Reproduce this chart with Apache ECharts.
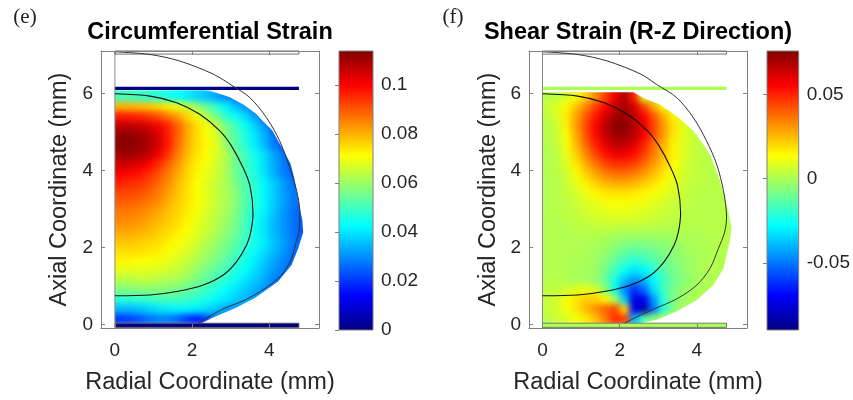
<!DOCTYPE html>
<html><head><meta charset="utf-8">
<script src="https://cdn.jsdelivr.net/npm/echarts@6/dist/echarts.min.js"></script>
<style>html,body{margin:0;padding:0;background:#fff}#c{width:853px;height:400px}#c canvas:first-of-type{filter:blur(3px)}</style>
</head><body><div id="c"></div>
<script>
// ---- data (field values in thousandths of strain) ----
const colX = [0.125,0.375,0.625,0.875,1.125,1.375,1.625,1.875,2.125,2.375,2.625,2.875,3.125,3.375,3.625,3.875,4.125,4.375,4.625,4.875];
const rowY = [0.175,0.425,0.675,0.925,1.175,1.425,1.675,1.925,2.175,2.425,2.675,2.925,3.175,3.425,3.675,3.925,4.175,4.425,4.675,4.925,5.175,5.425,5.675,5.925];
const circRows = [
 [20,21,23,26,28,28,25,20,17,22,28,27],
 [35,35,36,38,40,41,42,42,41,39,36,33,31,28],
 [47,47,48,49,50,50,50,49,47,45,42,40,37,35,32,29],
 [57,57,58,58,58,57,56,54,52,49,46,43,40,37,34,31,28],
 [63,63,64,64,63,62,61,59,56,53,50,47,44,40,37,33,29,26],
 [68,68,68,68,67,66,65,62,59,56,53,50,46,43,39,35,31,28,25],
 [72,72,71,71,70,69,67,65,62,59,56,53,49,45,41,37,33,29,26],
 [75,75,75,74,73,71,69,67,64,61,58,55,51,47,43,39,35,31,27,24],
 [78,78,77,76,75,73,71,69,66,63,60,57,53,49,45,41,36,32,28,24],
 [81,81,80,79,77,75,73,71,68,65,62,59,55,50,45,40,35,31,27,24],
 [84,84,83,81,79,77,75,72,69,66,63,60,56,50,45,40,35,31,27,24],
 [86,86,85,83,81,78,76,73,70,67,64,61,57,51,46,41,36,31,27,24],
 [89,89,88,86,84,80,77,74,71,68,65,62,58,52,47,42,37,32,28,24],
 [92,92,91,89,86,82,78,74,71,68,65,62,58,52,47,42,37,32,28],
 [96,95,94,92,88,84,79,75,71,68,65,62,56,52,47,42,37,32,27],
 [100,99,98,95,91,86,81,76,72,69,66,62,55,51,46,40,34,29,25],
 [105,105,103,100,95,89,83,77,73,70,66,62,55,50,45,39,33,28,24],
 [110,110,109,106,101,94,86,79,74,71,67,63,55,50,45,39,33,27],
 [113,113,112,109,104,97,88,80,75,72,68,59,53,47,41,35,28,24],
 [112,112,111,108,104,97,89,81,75,71,67,58,52,46,40,34,27],
 [107,107,106,104,101,96,89,81,75,70,65,56,50,44,38,31,25],
 [97,97,96,94,91,87,82,76,70,63,56,48,44,39,32,27],
 [80,80,79,78,76,73,69,65,60,54,48,42,36,31,27],
 [50,50,49,48,47,45,43,41,38,36,33,30,27]
];
const shearRows = [
 [3,5,8,12,17,24,35,48,45,-40,-15,-4,0,1],
 [4,7,12,18,25,32,40,44,20,-70,-85,-50,-22,-7,-1,1],
 [4,7,12,18,22,22,15,0,-35,-75,-72,-45,-22,-8,-3,0,1],
 [3,4,6,9,11,8,-5,-25,-48,-62,-52,-33,-18,-9,-4,-1,0,1],
 [2,2,1,0,-1,-4,-11,-24,-38,-45,-40,-28,-18,-11,-6,-3,0,1,1],
 [1,1,1,0,-1,-3,-9,-18,-27,-32,-29,-22,-15,-9,-5,-2,0,1,1],
 [1,1,1,0,0,-2,-6,-12,-18,-21,-19,-15,-11,-7,-4,-2,0,1,1,1],
 [1,1,1,1,0,-1,-3,-7,-11,-13,-12,-10,-7,-5,-3,-1,0,1,1,1],
 [1,1,1,1,1,0,-1,-3,-5,-6,-6,-5,-4,-3,-1,0,1,1,2,2],
 [1,1,1,2,2,2,2,1,0,0,0,0,0,0,1,1,1,2,2,2],
 [1,1,2,3,4,5,6,6,6,6,5,4,3,3,2,2,2,2,2,2],
 [1,2,3,4,6,8,9,10,10,9,8,7,5,4,3,2,2,2,2,2],
 [1,2,3,5,8,10,12,13,13,12,11,9,7,5,4,3,2,2,2,2],
 [1,2,4,7,11,15,17,18,18,17,15,13,10,7,5,3,2,2,2],
 [1,2,5,10,16,21,25,27,27,25,22,18,14,9,6,4,3,2,2],
 [1,2,6,13,21,28,34,37,37,34,30,24,18,12,7,4,3,2,2],
 [1,3,8,17,27,36,43,47,47,44,38,30,22,14,8,5,3,2],
 [1,3,10,21,33,44,52,57,57,53,45,35,25,16,9,5,3,2],
 [1,4,12,25,38,50,59,65,65,60,50,38,26,16,9,5,3],
 [2,5,14,28,42,54,64,71,71,66,56,43,30,18,10,5,2],
 [2,6,16,30,44,55,66,74,74,68,58,45,31,19,10,5],
 [3,8,17,29,41,52,62,70,72,66,56,42,28,16,8],
 [5,9,15,24,34,45,55,64,70,62,45,28,14,5],
 [2,3,7,13,22,32,45,58,68,50,8,4]
];
const circRange = [0, 0.114];
const shearRange = [-0.09, 0.076];
const circTicks = [0, 0.02, 0.04, 0.06, 0.08, 0.1];
const shearTicks = [-0.05, 0, 0.05];
const xTicks = [0, 2, 4];
const yTicks = [0, 2, 4, 6];
// deformed body outline (edge of the coloured region)
const domainEdgeE = [[0,6.08],[2.3,6.08],[2.46,6.07],[2.75,5.98],[2.98,5.9],[3.35,5.7],[3.67,5.46],[3.84,5.28],[4.08,5.04],[4.33,4.6],[4.55,4.18],[4.65,3.8],[4.77,3.14],[4.86,2.7],[4.88,2.4],[4.75,1.98],[4.58,1.55],[4.23,1.12],[3.63,0.69],[3.11,0.43],[2.5,0.17],[2.25,0.04]];
const domainEdgeF = [[0,6.03],[2.35,6.03],[2.61,5.89],[3.04,5.71],[3.48,5.41],[3.91,5.03],[4.15,4.7],[4.34,4.43],[4.6,3.74],[4.81,2.96],[4.9,2.5],[4.86,2.2],[4.81,1.98],[4.69,1.46],[4.43,1.03],[4.0,0.64],[3.48,0.35],[2.96,0.13],[2.52,0.04]];
const innerContour = [[0,5.99],[0.91,5.93],[1.6,5.76],[2.2,5.46],[2.72,5.03],[3.02,4.64],[3.32,4.08],[3.5,3.61],[3.58,2.9],[3.52,2.4],[3.41,2.06],[3.15,1.63],[2.81,1.29],[2.29,1.03],[1.6,0.86],[0.91,0.77],[0,0.75]];
const outerContourE = [[0,7.08],[0.91,7.01],[1.68,6.84],[2.55,6.5],[3.06,6.19],[3.5,5.89],[3.93,5.37],[4.27,4.77],[4.53,4.08],[4.71,3.48],[4.79,2.96],[4.78,2.45],[4.71,2.2],[4.58,1.72],[4.32,1.29],[3.89,0.94],[3.37,0.64],[2.76,0.39],[2.15,0.04]];
const outerContourF = [[0,7.08],[0.91,7.01],[1.68,6.84],[2.55,6.5],[2.96,6.23],[3.48,5.89],[3.91,5.37],[4.25,4.77],[4.51,4.17],[4.69,3.48],[4.77,2.79],[4.72,2.4],[4.56,1.98],[4.34,1.46],[4.0,1.03],[3.48,0.67],[2.87,0.4],[2.44,0.2],[2.13,0.04]];
const axisLine0 = [[0,-0.07],[0,7.1]];
const plateRects = [[0,-0.07,0,4.77,0.04],[0,6.09,0,4.77,6.17]]; // [x0,y0,value,x1,y1]
const topBlock = [[0,7.02,4.77,7.1]];

// ---- styles ----
const CELL = 0.25;
const FONT = "'Liberation Sans', Arial, Helvetica, sans-serif";
const TXT = '#262626';
const AX = '#808080';
const jetColors = ['#000080','#0000ff','#0080ff','#00ffff','#80ff80','#ffff00','#ff8000','#ff0000','#800000'];

function toCells(rows){
  const out=[];
  rows.forEach((r,j)=>r.forEach((v,i)=>{
    const edge = (i===r.length-1?1:0) | (i===0?2:0) | (j===rows.length-1?4:0) | (j===0?8:0);
    out.push([colX[i], rowY[j], v/1000, edge]);
  }));
  return out;
}
function cellItem(params, api){
  const x=api.value(0), y=api.value(1), e=api.value(3), h=CELL/2;
  const x0 = x-h-((e&2)?h:0), x1 = x+h+((e&1)?h:0);
  const y0 = y-h-((e&8)?h/2:0), y1 = y+h+((e&4)?h:0);
  const a=api.coord([x0, y1]), b=api.coord([x1, y0]);
  return {type:'rect', shape:{x:a[0], y:a[1], width:b[0]-a[0]+0.7, height:b[1]-a[1]+0.7}, style:{fill:api.visual('color')}};
}
function plateItem(params, api){
  const a=api.coord([api.value(0), api.value(4)]), b=api.coord([api.value(3), api.value(1)]);
  return {type:'rect', shape:{x:a[0], y:a[1], width:b[0]-a[0], height:b[1]-a[1]},
    style:{fill:api.visual('color'), stroke: params.dataIndex===0 ? '#5a5a5a' : null, lineWidth:0.8}};
}
function blockItem(params, api){
  const a=api.coord([api.value(0), api.value(3)]), b=api.coord([api.value(2), api.value(1)]);
  return {type:'rect', shape:{x:a[0], y:a[1], width:b[0]-a[0], height:b[1]-a[1]}, style:{fill:'#fff', stroke:'#707070', lineWidth:1}};
}
function cbarItem(params, api){
  const a=api.coord([api.value(0), api.value(3)]), b=api.coord([api.value(2), api.value(1)]);
  return {type:'rect', shape:{x:a[0], y:a[1], width:b[0]-a[0], height:b[1]-a[1]},
    style:{fill:new echarts.graphic.LinearGradient(0,1,0,0, jetColors.map((c,k)=>({offset:k/8, color:c}))), stroke:AX, lineWidth:1}};
}
// white cover around the body outline (hides the soft edge of the colour field)
function maskRender(edge, xmin, xmax, ymin, ymax){
  return function(params, api){
    const last = edge[edge.length-1];
    const xr = xmax + 0.35, yb = ymin - 0.2;
    const outside = [[0,ymax]].concat(edge, [[xr,last[1]],[xr,ymax]]);
    const left = [[xmin-0.1,yb],[0,yb],[0,ymax],[xmin-0.1,ymax]];
    const bottom = [[0,yb],[xr,yb],[xr,0.04],[0,0.04]];
    const poly = pts => ({type:'polygon', shape:{points:pts.map(p=>api.coord(p))}, style:{fill:'#fff'}});
    return {type:'group', children:[poly(outside), poly(left), poly(bottom)]};
  };
}

const lineStyleAx = {color:AX, width:1};
function xAx(gi, min, max, pos, labels){
  return {gridIndex:gi, type:'value', min:min, max:max, position:pos, zlevel:1, z:10,
    axisLine:{show:true, onZero:false, lineStyle:lineStyleAx},
    axisTick:{show:true, inside:true, length:4, customValues:xTicks, lineStyle:lineStyleAx},
    axisLabel:{show:labels, customValues:xTicks, margin:13, fontSize:19, fontFamily:FONT, color:TXT},
    splitLine:{show:false},
    name: labels ? 'Radial Coordinate (mm)' : '', nameLocation:'middle', nameGap:55,
    nameTextStyle:{fontSize:23.5, fontFamily:FONT, color:TXT, verticalAlign:'middle'}};
}
function yAx(gi, pos, labels, gap){
  return {gridIndex:gi, type:'value', min:-0.085, max:7.1, position:pos, zlevel:1, z:10,
    axisLine:{show:true, onZero:false, lineStyle:lineStyleAx},
    axisTick:{show:true, inside:true, length:4, customValues:yTicks, lineStyle:lineStyleAx},
    axisLabel:{show:labels, customValues:yTicks, margin:8, fontSize:19, fontFamily:FONT, color:TXT},
    splitLine:{show:false},
    name: labels ? 'Axial Coordinate (mm)' : '', nameLocation:'middle', nameGap:gap,
    nameTextStyle:{fontSize:23.5, fontFamily:FONT, color:TXT, verticalAlign:'middle'}};
}
function cbarX(gi){ return {gridIndex:gi, type:'value', min:0, max:1, show:false, zlevel:1}; }
function cbarY(gi, range, ticks){
  return {gridIndex:gi, type:'value', min:range[0], max:range[1], position:'right', zlevel:1, z:10,
    axisLine:{show:false}, splitLine:{show:false},
    axisTick:{show:true, inside:true, length:4, customValues:ticks, lineStyle:lineStyleAx},
    axisLabel:{customValues:ticks, margin:8, fontSize:19, fontFamily:FONT, color:TXT}};
}
function panelSeries(xi, yi, cbx, cby, rows, range, edge, outer, xr){
  return [
    {type:'custom', xAxisIndex:xi, yAxisIndex:yi, renderItem:cellItem, data:toCells(rows), encode:{x:0,y:1}, zlevel:0, z:1},
    {type:'custom', xAxisIndex:xi, yAxisIndex:yi, renderItem:plateItem, data:plateRects, encode:{x:[0,3],y:[1,4]}, zlevel:1, z:3},
    {type:'custom', xAxisIndex:xi, yAxisIndex:yi, renderItem:blockItem, data:topBlock, encode:{x:[0,2],y:[1,3]}, zlevel:1, z:3},
    {type:'line', xAxisIndex:xi, yAxisIndex:yi, data:axisLine0, showSymbol:false, lineStyle:{color:'#8a8a8a', width:1}, zlevel:1, z:4},
    {type:'line', xAxisIndex:xi, yAxisIndex:yi, data:outer, showSymbol:false, smooth:0.3, lineStyle:{color:'#333', width:1}, zlevel:1, z:5},
    {type:'line', xAxisIndex:xi, yAxisIndex:yi, data:innerContour, showSymbol:false, smooth:0.3, lineStyle:{color:'#111', width:1.1}, zlevel:1, z:5},
    {type:'custom', xAxisIndex:cbx, yAxisIndex:cby, renderItem:cbarItem, data:[[0, range[0], 1, range[1]]], zlevel:1, z:2},
    {type:'custom', xAxisIndex:xi, yAxisIndex:yi, renderItem:maskRender(edge, xr[0], xr[1], -0.085, 7.1), data:[[0,0]], zlevel:1, z:2, silent:true}
  ];
}

const xrE = [-0.36, 5.29], xrF = [-0.35, 5.3];
const chart = echarts.init(document.getElementById('c'), null, {renderer:'canvas'});
chart.setOption({
  animation:false,
  grid:[
    {left:101, top:51, width:218, height:279},
    {left:339, top:51, width:34, height:279},
    {left:529, top:51, width:218, height:279},
    {left:767, top:51, width:33, height:279}
  ],
  xAxis:[ xAx(0,xrE[0],xrE[1],'bottom',true), xAx(0,xrE[0],xrE[1],'top',false), cbarX(1),
          xAx(2,xrF[0],xrF[1],'bottom',true), xAx(2,xrF[0],xrF[1],'top',false), cbarX(3) ],
  yAxis:[ yAx(0,'left',true,41), yAx(0,'right',false,0), cbarY(1, circRange, circTicks),
          yAx(2,'left',true,40), yAx(2,'right',false,0), cbarY(3, shearRange, shearTicks) ],
  visualMap:[
    {type:'continuous', show:false, min:circRange[0], max:circRange[1], dimension:2, seriesIndex:[0,1], inRange:{color:jetColors}},
    {type:'continuous', show:false, min:shearRange[0], max:shearRange[1], dimension:2, seriesIndex:[8,9], inRange:{color:jetColors}}
  ],
  series: panelSeries(0,0,2,2,circRows,circRange,domainEdgeE,outerContourE,xrE)
    .concat(panelSeries(3,3,5,5,shearRows,shearRange,domainEdgeF,outerContourF,xrF)),
  graphic:[
    {type:'text', zlevel:1, x:210, y:33, style:{text:'Circumferential Strain', align:'center', verticalAlign:'middle', font:"bold 23.5px "+FONT, fill:'#000'}},
    {type:'text', zlevel:1, x:638, y:33, style:{text:'Shear Strain (R-Z Direction)', align:'center', verticalAlign:'middle', font:"bold 23.5px "+FONT, fill:'#000'}},
    {type:'text', zlevel:1, x:25, y:17, style:{text:'(e)', align:'center', verticalAlign:'middle', font:"21px 'Liberation Serif', 'DejaVu Serif', serif", fill:'#222'}},
    {type:'text', zlevel:1, x:453, y:17, style:{text:'(f)', align:'center', verticalAlign:'middle', font:"21px 'Liberation Serif', 'DejaVu Serif', serif", fill:'#222'}}
  ]
});
</script>
</body></html>
